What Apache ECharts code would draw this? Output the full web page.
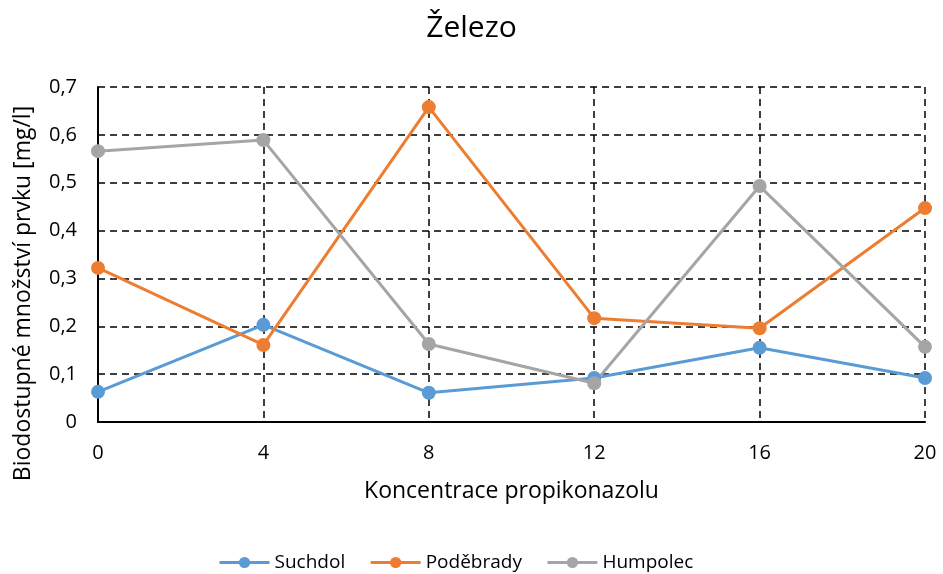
<!DOCTYPE html>
<html><head><meta charset="utf-8">
<script src="https://cdn.jsdelivr.net/npm/echarts@6/dist/echarts.min.js"></script>
<style>html,body{margin:0;padding:0;background:#fff}#c{width:943px;height:574px}</style>
</head><body><div id="c"></div>
<script>
const xValues = [0, 4, 8, 12, 16, 20];
const suchdol = [0.063, 0.203, 0.061, 0.092, 0.155, 0.092];
const podebrady = [0.322, 0.161, 0.658, 0.217, 0.196, 0.447];
const humpolec = [0.566, 0.589, 0.163, 0.081, 0.493, 0.157];
const seriesNames = ['Suchdol', 'Poděbrady', 'Humpolec'];
const colors = ['#5b9bd5', '#ed7d31', '#a5a5a5'];
const font = '"Open Sans", "DejaVu Sans", sans-serif';

const chart = echarts.init(document.getElementById('c'), null, {renderer: 'canvas'});
const mk = (name, vals, color) => ({
  name, type: 'line', data: xValues.map((x, i) => [x, vals[i]]),
  symbol: 'circle', symbolSize: 14, color,
  lineStyle: {width: 3, color}, itemStyle: {color}, z: 3
});
chart.setOption({
  animation: false,
  textStyle: {fontFamily: font},
  title: {text: 'Železo', left: 'center', top: 8,
    textStyle: {fontFamily: font, fontSize: 30, fontWeight: 'normal', color: '#000'}},
  legend: {top: 548, left: 213, itemWidth: 50, itemHeight: 14, itemGap: 24,
    lineStyle: {width: 3},
    textStyle: {fontFamily: font, fontSize: 19, color: '#000'},
    data: seriesNames},
  grid: {left: 98, right: 18, top: 87, bottom: 152},
  xAxis: {type: 'value', min: 0, max: 20, interval: 4,
    name: 'Koncentrace propikonazolu', nameLocation: 'middle', nameGap: 58,
    nameTextStyle: {fontSize: 23, color: '#000', fontFamily: font},
    axisLine: {lineStyle: {color: '#000', width: 2}},
    axisTick: {show: false},
    axisLabel: {fontSize: 20, color: '#000', margin: 21, fontFamily: font},
    splitLine: {show: true, lineStyle: {color: '#000', type: [7, 5], width: 1.5}}},
  yAxis: {type: 'value', min: 0, max: 0.7, interval: 0.1,
    name: 'Biodostupné množství prvku [mg/l]', nameLocation: 'middle', nameGap: 63,
    nameTextStyle: {fontSize: 23, color: '#000', fontFamily: font, padding: [0, 78, 0, 0]},
    axisLine: {show: true, lineStyle: {color: '#000', width: 2}},
    axisTick: {show: false},
    axisLabel: {fontSize: 20, color: '#000', margin: 21, fontFamily: font,
      formatter: v => v === 0 ? '0' : v.toFixed(1).replace('.', ',')},
    splitLine: {show: true, lineStyle: {color: '#000', type: [7, 5], width: 1.5}}},
  series: [mk(seriesNames[0], suchdol, colors[0]), mk(seriesNames[1], podebrady, colors[1]), mk(seriesNames[2], humpolec, colors[2])]
});
</script></body></html>
